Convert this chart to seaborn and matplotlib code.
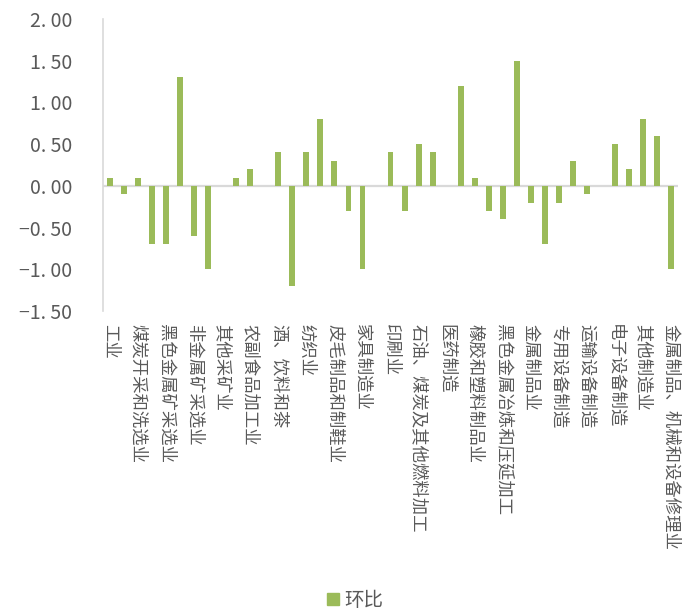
import matplotlib
matplotlib.use("Agg")
import matplotlib.pyplot as plt
import seaborn as sns
import pandas as pd
from matplotlib.patches import Patch

# ---- data ----
categories = [
    "工业", "采矿业", "煤炭开采和洗选业", "石油和天然气开采业", "黑色金属矿采选业",
    "有色金属矿采选业", "非金属矿采选业", "开采辅助活动", "其他采矿业", "制造业",
    "农副食品加工业", "食品制造业", "酒、饮料和茶", "烟草制品业", "纺织业",
    "纺织服装、服饰业", "皮毛制品和制鞋业", "木材加工业", "家具制造业", "造纸和纸制品业",
    "印刷业", "文教、工美、体育和娱乐用品", "石油、煤炭及其他燃料加工", "化学原料和化学制品",
    "医药制造", "化学纤维制造", "橡胶和塑料制品业", "非金属矿物制品业",
    "黑色金属冶炼和压延加工", "有色金属冶炼和压延加工", "金属制品业", "通用设备制造",
    "专用设备制造", "汽车制造", "运输设备制造", "电气机械和器材制造", "电子设备制造",
    "仪器仪表制造", "其他制造业", "废弃资源综合利用业", "金属制品、机械和设备修理业",
]
values = [
    0.1, -0.1, 0.1, -0.7, -0.7, 1.3, -0.6, -1.0, 0.0, 0.1,
    0.2, 0.0, 0.4, -1.2, 0.4, 0.8, 0.3, -0.3, -1.0, 0.0,
    0.4, -0.3, 0.5, 0.4, 0.0, 1.2, 0.1, -0.3, -0.4, 1.5,
    -0.2, -0.7, -0.2, 0.3, -0.1, 0.0, 0.5, 0.2, 0.8, 0.6,
    -1.0,
]
shown_labels = [
    "工业", "煤炭开采和洗选业", "黑色金属矿采选业", "非金属矿采选业", "其他采矿业",
    "农副食品加工业", "酒、饮料和茶", "纺织业", "皮毛制品和制鞋业", "家具制造业",
    "印刷业", "石油、煤炭及其他燃料加工", "医药制造", "橡胶和塑料制品业",
    "黑色金属冶炼和压延加工", "金属制品业", "专用设备制造", "运输设备制造",
    "电子设备制造", "其他制造业", "金属制品、机械和设备修理业",
]
y_ticks = [-1.5, -1.0, -0.5, 0.0, 0.5, 1.0, 1.5, 2.0]
y_tick_labels = ["−1. 50", "−1. 00", "−0. 50", "0. 00", "0. 50", "1. 00", "1. 50", "2. 00"]
series_name = "环比"

GREEN = "#9BBB59"
GRAY_TXT = "#595959"
GRAY_LINE = "#D9D9D9"

sns.set_theme(style="white")
plt.rcParams['font.family'] = ['Noto Sans CJK SC', 'DejaVu Sans']

fig = plt.figure(figsize=(6.99, 6.15), dpi=100)
ax = fig.add_axes([0.1474, 0.4943, 0.8226, 0.4748])

df = pd.DataFrame({"行业": categories, series_name: values})
sns.barplot(data=df, x="行业", y=series_name, color=GREEN, saturation=1,
            width=0.42, linewidth=0, ax=ax, zorder=3)

ax.set_xlim(-0.5, len(categories) - 0.5)
ax.set_ylim(-1.5, 2.0)
ax.axhline(0, color=GRAY_LINE, lw=1.6, zorder=2)

for s in ["top", "right", "bottom"]:
    ax.spines[s].set_visible(False)
ax.spines["left"].set_color(GRAY_LINE)
ax.spines["left"].set_linewidth(1.2)

ax.set_xticks(list(range(0, len(categories), 2)))
ax.set_xticklabels(shown_labels, rotation=-90, fontsize=12.5, color=GRAY_TXT)
ax.tick_params(axis="x", length=0, pad=9)

ax.set_yticks(y_ticks)
ax.set_yticklabels(y_tick_labels, fontsize=14, color=GRAY_TXT)
ax.tick_params(axis="y", direction="in", length=5, width=1.2, color=GRAY_LINE, pad=22)

ax.set_xlabel("")
ax.set_ylabel("")

fig.legend(handles=[Patch(color=GREEN)], labels=[series_name], loc="center",
           bbox_to_anchor=(0.508, 0.024), frameon=False, fontsize=14,
           handlelength=0.6, handleheight=0.6, handletextpad=0.3,
           labelcolor=GRAY_TXT)

fig.savefig("out.png", dpi=100)
